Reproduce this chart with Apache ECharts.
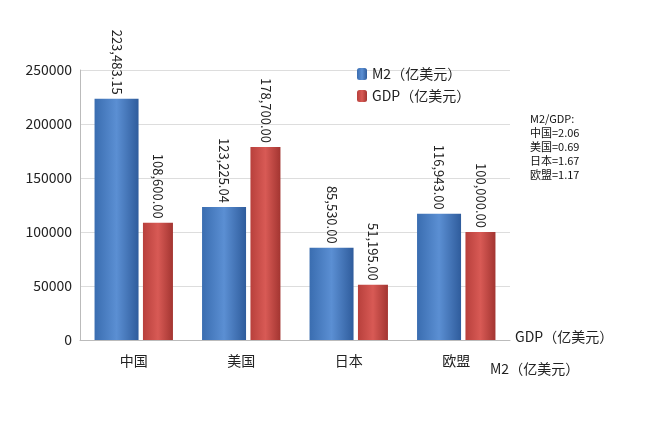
<!DOCTYPE html>
<html><head><meta charset="utf-8">
<script src="https://cdn.jsdelivr.net/npm/echarts@6/dist/echarts.min.js"></script>
<style>body{margin:0;background:#fff}#c{width:660px;height:438px}</style></head>
<body><div id="c"></div>
<script>
const categories = ['中国','美国','日本','欧盟'];
const m2 = [223483.15, 123225.04, 85530.00, 116943.00];
const gdp = [108600.00, 178700.00, 51195.00, 100000.00];
const ratioText = 'M2/GDP:\n中国=2.06\n美国=0.69\n日本=1.67\n欧盟=1.17';
const fmt = v => v.toLocaleString('en-US',{minimumFractionDigits:2,maximumFractionDigits:2});
const chart = echarts.init(document.getElementById('c'));
const lab = {show:true,position:'top',rotate:-90,align:'right',verticalAlign:'middle',distance:4,
  fontSize:13,color:'#222',fontFamily:'Noto Sans CJK SC',formatter:p=>fmt(p.value)};
chart.setOption({
  animation:false,
  textStyle:{fontFamily:'Noto Sans CJK SC'},
  grid:{left:80,right:150,top:70,bottom:98},
  legend:{top:62,left:352,orient:'vertical',itemGap:8,itemWidth:10,itemHeight:12,
    textStyle:{fontSize:14,color:'#222'},data:['M2（亿美元）','GDP（亿美元）']},
  xAxis:{type:'category',data:categories,axisTick:{show:false},
    axisLine:{lineStyle:{color:'#bbb'}},axisLabel:{fontSize:14,color:'#222',margin:14}},
  yAxis:{type:'value',min:0,max:250000,interval:50000,
    axisLabel:{fontSize:14,color:'#222',formatter:v=>String(v)},splitLine:{lineStyle:{color:'#ddd'}},
    axisLine:{show:true,lineStyle:{color:'#bbb'}}},
  graphic:[
    {type:'text',left:530,top:112,style:{text:ratioText,fontSize:11,lineHeight:14,fill:'#111',fontFamily:'Noto Sans CJK SC'}},
    {type:'text',left:515,top:330,style:{text:'GDP（亿美元）',fontSize:14,fill:'#222',fontFamily:'Noto Sans CJK SC'}},
    {type:'text',left:490,top:362,style:{text:'M2（亿美元）',fontSize:14,fill:'#222',fontFamily:'Noto Sans CJK SC'}}
  ],
  series:[
    {name:'M2（亿美元）',type:'bar',data:m2,barWidth:44,barGap:'10%',label:lab,
      itemStyle:{color:new echarts.graphic.LinearGradient(0,0,1,0,[{offset:0,color:'#3a6db0'},{offset:0.5,color:'#5b8fd3'},{offset:1,color:'#2f5c9c'}])}},
    {name:'GDP（亿美元）',type:'bar',data:gdp,barWidth:30,label:lab,
      itemStyle:{color:new echarts.graphic.LinearGradient(0,0,1,0,[{offset:0,color:'#b8403c'},{offset:0.5,color:'#d85a55'},{offset:1,color:'#a33531'}])}}
  ]
});
</script></body></html>
